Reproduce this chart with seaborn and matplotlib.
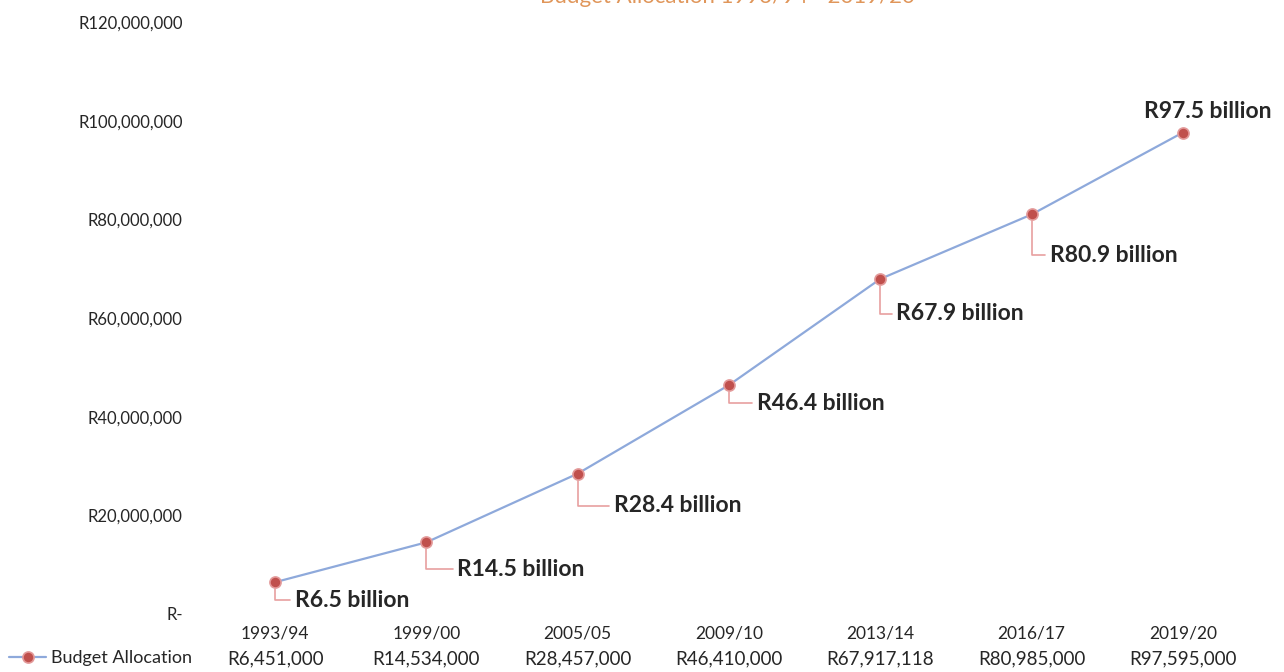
import matplotlib.pyplot as plt
import seaborn as sns
import pandas as pd
from matplotlib.ticker import FuncFormatter

years = ['1993/94', '1999/00', '2005/05', '2009/10', '2013/14', '2016/17', '2019/20']
budget = [6451000, 14534000, 28457000, 46410000, 67917118, 80985000, 97595000]
table_labels = ['R6,451,000', 'R14,534,000', 'R28,457,000', 'R46,410,000',
                'R67,917,118', 'R80,985,000', 'R97,595,000']
point_labels = ['R6.5 billion', 'R14.5 billion', 'R28.4 billion', 'R46.4 billion',
                'R67.9 billion', 'R80.9 billion', 'R97.5 billion']
title = 'Budget Allocation 1993/94 - 2019/20'


def main():
    df = pd.DataFrame({'Year': years, 'Budget Allocation': budget})
    lineplot(df)


def lineplot(df):
    sns.set_style('white')
    plt.rcParams['font.family'] = ['Lato', 'DejaVu Sans']

    fig = plt.figure(figsize=(12.84, 6.72), dpi=100)
    ax = fig.add_axes([199.5 / 1284, 1 - 614 / 672, 1059 / 1284, 592 / 672])

    sns.lineplot(x='Year', y='Budget Allocation', data=df, ax=ax, sort=False,
                 color='#8EA9DB', linewidth=1.6, marker='o', markersize=8,
                 markerfacecolor='#C0504D', markeredgecolor='#E39A9A',
                 markeredgewidth=1.2, label='Budget Allocation', legend=False)

    ax.set_xlim(-0.5, len(years) - 0.5)
    ax.set_ylim(0, 120000000)
    ax.set_yticks(range(0, 120000001, 20000000))
    ax.yaxis.set_major_formatter(FuncFormatter(
        lambda v, p: 'R-' if v == 0 else 'R{:,.0f}'.format(v)))
    ax.set_xlabel('')
    ax.set_ylabel('')
    ax.tick_params(axis='y', length=0, pad=12, labelsize=12)
    ax.tick_params(axis='x', length=0, pad=8, labelsize=12.5)
    for s in ax.spines.values():
        s.set_visible(False)

    # leader-line offsets (pixels) for the point labels
    offsets = [(20, -18), (31, -27), (36, -32), (28, -18), (16, -35), (18, -41), (25, 21)]
    for i, (lab, off) in enumerate(zip(point_labels, offsets)):
        if i == len(point_labels) - 1:
            ax.annotate(lab, xy=(i, budget[i]), xytext=off, textcoords='offset pixels',
                        ha='center', va='center', fontsize=16.5, fontweight='bold')
        else:
            ax.annotate(lab, xy=(i, budget[i]), xytext=off, textcoords='offset pixels',
                        ha='left', va='center', fontsize=16.5, fontweight='bold',
                        arrowprops=dict(arrowstyle='-', color='#E8A0A0', lw=1.2,
                                        shrinkA=1, shrinkB=5,
                                        connectionstyle='angle,angleA=0,angleB=90,rad=0'))

    # data table row
    for i, lab in enumerate(table_labels):
        ax.text(i, -45 / 592, lab, transform=ax.get_xaxis_transform(),
                ha='center', va='center', fontsize=13.5)

    handle = ax.get_lines()[0]
    fig.legend([handle], ['Budget Allocation'], loc='center right',
               bbox_to_anchor=(192 / 1284, 1 - 658 / 672), frameon=False,
               fontsize=13, handlelength=2.0, handletextpad=0.3,
               borderaxespad=0, borderpad=0)

    # title is cropped at the top edge in the source scan
    fig.text(915 / 1284, 1 - 3 / 672, title, ha='right', va='baseline',
             fontsize=16, color='#E0965A')

    plt.savefig('out.png', dpi=100)
    plt.close()


if __name__ == '__main__':
    main()
